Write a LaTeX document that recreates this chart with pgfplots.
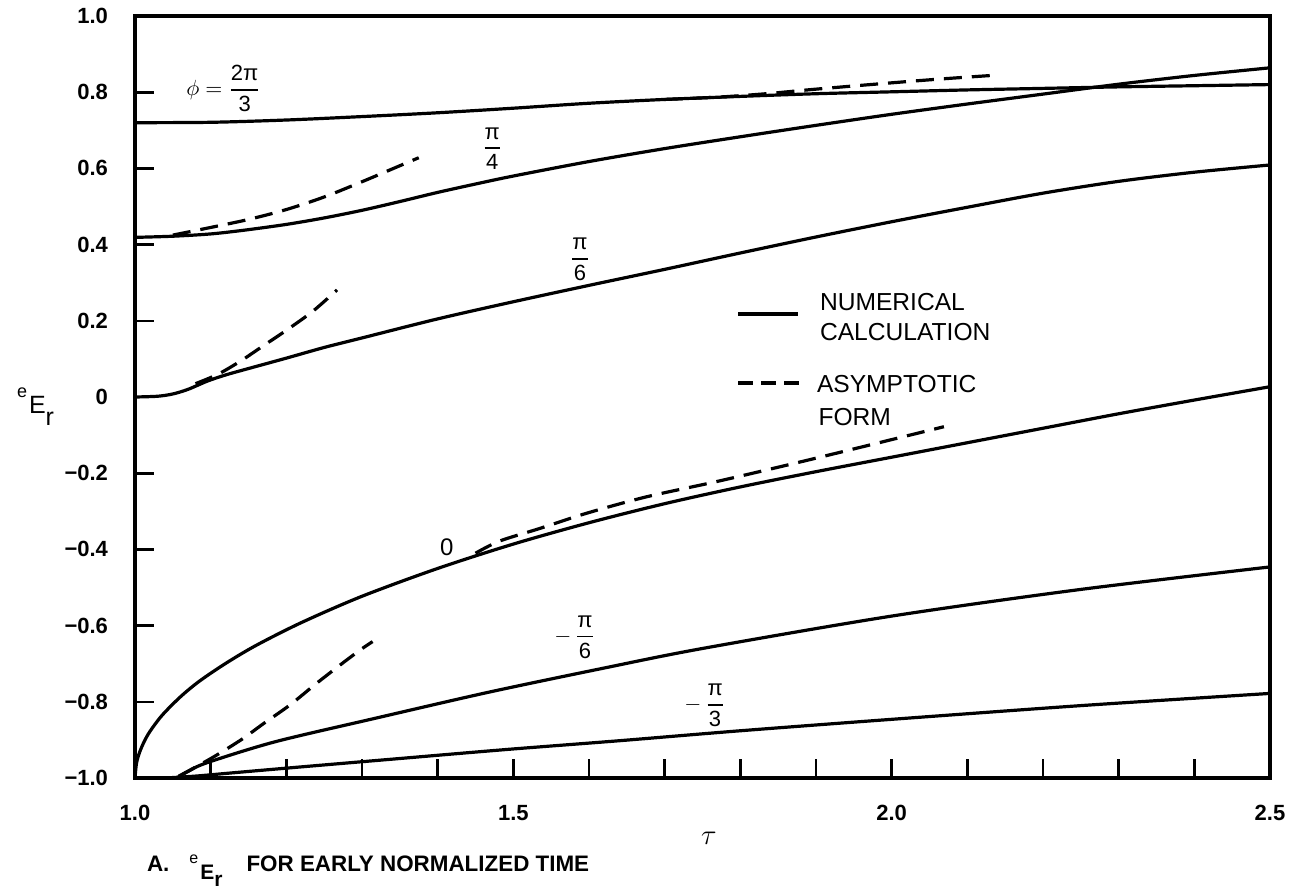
\documentclass[border=0pt]{standalone}
\usepackage{fontspec}
\setmainfont{Liberation Sans}
\usepackage{amsmath}
\usepackage{pgfplots}
\pgfplotsset{compat=1.18}
\newcommand{\fr}[2]{\ensuremath{\genfrac{}{}{0.9pt}{0}{\mbox{#1}}{\mbox{#2}}}}

\begin{document}
\begin{tikzpicture}
\begin{axis}[
  scale only axis, width=567.5pt, height=381pt,
  xmin=1, xmax=2.5, ymin=-1, ymax=1,
  clip=false,
  axis line style={line width=1.8pt},
  tick align=inside, tick pos=left,
  major tick length=9.5pt,
  tick style={line width=1.3pt, black},
  xtick={1,1.1,1.2,1.3,1.4,1.5,1.6,1.7,1.8,1.9,2,2.1,2.2,2.3,2.4,2.5},
  xticklabels={1.0,,,,,1.5,,,,,2.0,,,,,2.5},
  ytick={-1,-0.8,-0.6,-0.4,-0.2,0,0.2,0.4,0.6,0.8,1},
  yticklabels={−1.0,−0.8,−0.6,−0.4,−0.2,0,0.2,0.4,0.6,0.8,1.0},
  ticklabel style={font=\fontsize{11}{13}\selectfont\bfseries},
  xticklabel style={yshift=-10pt},
  yticklabel style={xshift=-10pt},
  xlabel={$\tau$},
  xlabel style={at={(rel axis cs:0.5057,0)}, anchor=center, yshift=-30pt, font=\Large},
]
% phi = 2pi/3 (numerical)
\addplot[black, line width=1.6pt, smooth] coordinates {
(1.0,0.720)(1.1,0.721)(1.2,0.727)(1.3,0.736)(1.4,0.746)(1.5,0.758)(1.6,0.771)
(1.7,0.781)(1.8,0.789)(1.9,0.796)(2.0,0.801)(2.1,0.806)(2.2,0.810)(2.3,0.814)
(2.4,0.817)(2.5,0.820)};
% phi = 2pi/3 (asymptotic)
\addplot[black, line width=1.6pt, dash pattern=on 9pt off 5pt, smooth] coordinates {
(1.70,0.781)(1.77,0.787)(1.834,0.796)(1.9,0.808)(1.984,0.822)(2.06,0.834)(2.14,0.845)};
% phi = pi/4
\addplot[black, line width=1.6pt, smooth] coordinates {
(1.0,0.419)(1.05,0.422)(1.1,0.428)(1.145,0.438)(1.2,0.453)(1.25,0.470)(1.3,0.490)
(1.35,0.513)(1.4,0.537)(1.45,0.559)(1.5,0.580)(1.6,0.618)(1.7,0.652)(1.8,0.683)
(1.9,0.713)(2.0,0.742)(2.1,0.769)(2.2,0.795)(2.3,0.821)(2.4,0.844)(2.5,0.864)};
\addplot[black, line width=1.6pt, dash pattern=on 9pt off 5pt, smooth] coordinates {
(1.05,0.425)(1.1,0.445)(1.15,0.466)(1.2,0.492)(1.25,0.525)(1.3,0.565)(1.35,0.607)(1.375,0.628)};
% phi = pi/6
\addplot[black, line width=1.6pt, smooth] coordinates {
(1.0,0.0)(1.03,0.002)(1.05,0.008)(1.07,0.020)(1.096,0.042)(1.12,0.058)(1.145,0.072)
(1.2,0.102)(1.25,0.130)(1.3,0.155)(1.4,0.205)(1.5,0.250)(1.6,0.293)(1.7,0.335)
(1.8,0.378)(1.9,0.420)(2.0,0.460)(2.1,0.498)(2.2,0.535)(2.3,0.566)(2.4,0.590)(2.5,0.609)};
\addplot[black, line width=1.6pt, dash pattern=on 9pt off 5pt, smooth] coordinates {
(1.08,0.035)(1.11,0.060)(1.14,0.095)(1.17,0.135)(1.2,0.175)(1.235,0.225)(1.267,0.281)};
% phi = 0
\addplot[black, line width=1.6pt, smooth] coordinates {
(1.0,-1.0)(1.002,-0.961)(1.006,-0.933)(1.012,-0.905)(1.02,-0.877)(1.036,-0.835)
(1.06,-0.787)(1.085,-0.746)(1.12,-0.699)(1.16,-0.652)(1.22,-0.592)(1.3,-0.523)
(1.4,-0.450)(1.5,-0.386)(1.6,-0.330)(1.7,-0.280)(1.8,-0.236)(1.9,-0.196)
(2.0,-0.158)(2.1,-0.120)(2.2,-0.082)(2.3,-0.044)(2.4,-0.008)(2.5,0.027)};
\addplot[black, line width=1.6pt, dash pattern=on 9pt off 5pt, smooth] coordinates {
(1.45,-0.410)(1.482,-0.378)(1.535,-0.345)(1.597,-0.305)(1.676,-0.262)(1.773,-0.220)
(1.899,-0.161)(2.069,-0.078)};
% phi = -pi/6
\addplot[black, line width=1.6pt, smooth] coordinates {
(1.055,-1.0)(1.07,-0.983)(1.095,-0.960)(1.185,-0.905)(1.318,-0.843)(1.467,-0.775)
(1.616,-0.713)(1.75,-0.660)(2.0,-0.575)(2.25,-0.505)(2.5,-0.446)};
\addplot[black, line width=1.6pt, dash pattern=on 9pt off 5pt, smooth] coordinates {
(1.058,-0.995)(1.101,-0.948)(1.14,-0.900)(1.17,-0.857)(1.205,-0.808)(1.239,-0.753)
(1.274,-0.699)(1.299,-0.662)(1.314,-0.642)};
% phi = -pi/3
\addplot[black, line width=1.6pt, smooth] coordinates {
(1.04,-1.0)(1.08,-0.995)(1.12,-0.988)(1.195,-0.975)(1.343,-0.950)(1.492,-0.925)
(1.641,-0.902)(1.8,-0.876)(2.0,-0.846)(2.25,-0.810)(2.5,-0.778)};
% legend samples
\addplot[black, line width=1.6pt] coordinates {(1.797,0.218)(1.876,0.218)};
\addplot[black, line width=1.6pt, dash pattern=on 7.5pt off 4pt] coordinates {(1.797,0.037)(1.879,0.037)};
\node[anchor=base west, font=\fontsize{12.3}{14}\selectfont] at (axis cs:1.896,0.228) {NUMERICAL};
\node[anchor=base west, font=\fontsize{12.3}{14}\selectfont] at (axis cs:1.896,0.147) {CALCULATION};
\node[anchor=base west, font=\fontsize{12.3}{14}\selectfont] at (axis cs:1.892,0.013) {ASYMPTOTIC};
\node[anchor=base west, font=\fontsize{12.3}{14}\selectfont] at (axis cs:1.894,-0.076) {FORM};
% curve labels
\node[font=\fontsize{11}{13}\selectfont] at (axis cs:1.117,0.810) {$\phi = \fr{2π}{3}$};
\node[font=\fontsize{11}{13}\selectfont] at (axis cs:1.472,0.652) {\fr{π}{4}};
\node[font=\fontsize{11}{13}\selectfont] at (axis cs:1.588,0.362) {\fr{π}{6}};
\node[font=\fontsize{12}{14}\selectfont] at (axis cs:1.412,-0.393) {0};
\node[font=\fontsize{11}{13}\selectfont] at (axis cs:1.581,-0.630) {$-\,\fr{π}{6}$};
\node[font=\fontsize{11}{13}\selectfont] at (axis cs:1.753,-0.810) {$-\,\fr{π}{3}$};
% y label
\node[anchor=base west] at (axis cs:1,-0.042) [xshift=-62.5pt]
  {\raisebox{8pt}{\fontsize{9}{10}\selectfont e}\hspace{1pt}{\fontsize{12.5}{14}\selectfont E\raisebox{-6pt}{r}}};
% caption
\node[anchor=base west] at (axis cs:1,-1) [xshift=2.5pt, yshift=-46.5pt]
  {\fontsize{11.2}{13}\selectfont\bfseries A.\hspace{10pt}\raisebox{4pt}{\fontsize{8}{9}\selectfont\mdseries e}\hspace{1pt}\raisebox{-4pt}{\fontsize{10.5}{12}\selectfont E\raisebox{-3.5pt}{r}}\hspace{12pt}FOR EARLY NORMALIZED TIME};
\coordinate (SW) at (rel axis cs:0,0);
\coordinate (NE) at (rel axis cs:1,1);
\end{axis}
\pgfresetboundingbox
\useasboundingbox ([xshift=-67.5pt,yshift=-56pt]SW) rectangle ([xshift=10.5pt,yshift=8pt]NE);
\end{tikzpicture}
\end{document}
